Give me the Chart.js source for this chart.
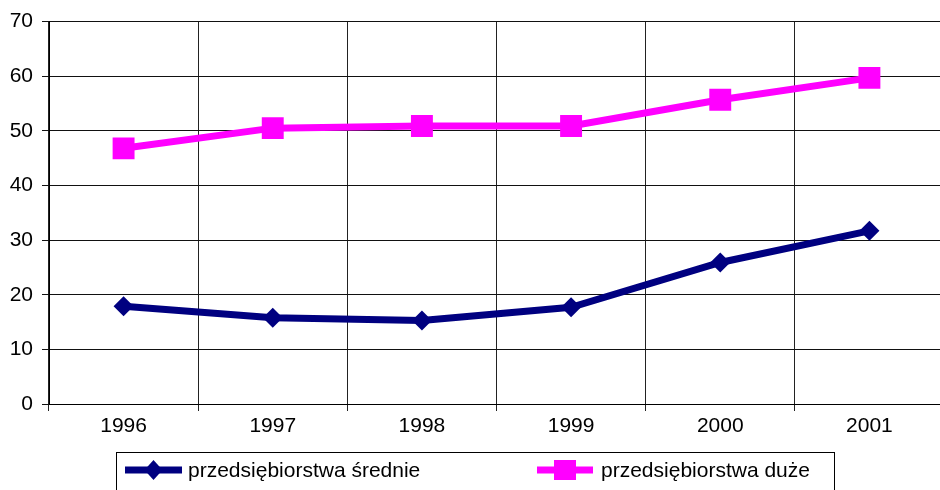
<!DOCTYPE html>
<html>
<head>
<meta charset="utf-8">
<script src="https://cdn.jsdelivr.net/npm/chart.js@4.4.0/dist/chart.umd.min.js"></script>
<style>
html,body{margin:0;padding:0;background:#fff;overflow:hidden;width:940px;height:490px;}
#wrap{position:absolute;left:0;top:0;width:948px;height:490px;}
</style>
</head>
<body>
<div id="wrap"><canvas id="c" width="948" height="490"></canvas></div>
<script>
const categories = ['1996','1997','1998','1999','2000','2001'];
const seriesSrednie = [17.9, 15.8, 15.3, 17.7, 25.9, 31.7];
const seriesDuze = [46.8, 50.5, 50.9, 50.9, 55.7, 59.7];
const seriesNames = ['przedsiębiorstwa średnie', 'przedsiębiorstwa duże'];
const yTicks = [0, 10, 20, 30, 40, 50, 60, 70];

const FONT = 'Liberation Sans, Arial, sans-serif';

const legendPlugin = {
  id: 'boxLegend',
  afterDraw(chart) {
    const ctx = chart.ctx;
    ctx.save();
    ctx.strokeStyle = '#000';
    ctx.lineWidth = 1;
    ctx.strokeRect(116.5, 452.5, 718, 60);
    const items = [
      {x0: 125, x1: 182, textX: 188},
      {x0: 537, x1: 593, textX: 601}
    ];
    const y = 470;
    chart.data.datasets.forEach((ds, i) => {
      const it = items[i];
      ctx.strokeStyle = ds.borderColor;
      ctx.lineWidth = 7;
      ctx.beginPath();
      ctx.moveTo(it.x0, y);
      ctx.lineTo(it.x1, y);
      ctx.stroke();
      const cx = (it.x0 + it.x1) / 2;
      ctx.fillStyle = ds.borderColor;
      ctx.beginPath();
      if (ds.pointStyle === 'rectRot') {
        ctx.moveTo(cx, y - 10); ctx.lineTo(cx + 9, y); ctx.lineTo(cx, y + 10); ctx.lineTo(cx - 9, y);
      } else {
        ctx.rect(cx - 11, y - 10, 22, 20);
      }
      ctx.closePath();
      ctx.fill();
      ctx.fillStyle = '#000';
      ctx.font = '21px ' + FONT;
      ctx.textBaseline = 'middle';
      ctx.textAlign = 'left';
      ctx.fillText(ds.label, it.textX, y + 1);
    });
    ctx.restore();
  }
};

new Chart(document.getElementById('c'), {
  type: 'line',
  data: {
    labels: categories,
    datasets: [
      {
        label: seriesNames[0],
        data: seriesSrednie,
        borderColor: '#000080',
        backgroundColor: '#000080',
        borderWidth: 7,
        pointStyle: 'rectRot',
        pointRadius: 10,
        pointHoverRadius: 10,
        pointBorderWidth: 0,
        tension: 0
      },
      {
        label: seriesNames[1],
        data: seriesDuze,
        borderColor: '#FF00FF',
        backgroundColor: '#FF00FF',
        borderWidth: 7,
        pointStyle: 'rect',
        pointRadius: 15.5,
        pointHoverRadius: 15.5,
        pointBorderWidth: 0,
        tension: 0
      }
    ]
  },
  options: {
    responsive: false,
    animation: false,
    events: [],
    layout: {autoPadding: false, padding: {top: 21, right: 4, left: 0, bottom: 0}},
    plugins: {legend: {display: false}, tooltip: {enabled: false}},
    scales: {
      x: {
        type: 'category',
        offset: true,
        grid: {offset: true, color: '#222', lineWidth: 1, tickLength: 7, drawTicks: true},
        border: {display: true, color: '#000', width: 1},
        ticks: {color: '#000', font: {family: FONT, size: 21}, padding: 3, maxRotation: 0},
        afterFit(s) { s.height = 86; }
      },
      y: {
        min: 0, max: 70,
        afterBuildTicks(s) { s.ticks = yTicks.map(v => ({value: v})); },
        grid: {color: '#111', lineWidth: 1, tickLength: 7},
        border: {display: true, color: '#000', width: 1},
        ticks: {color: '#000', font: {family: FONT, size: 21}, padding: 9},
        afterFit(s) { s.width = 49; }
      }
    }
  },
  plugins: [legendPlugin]
});
</script>
</body>
</html>
